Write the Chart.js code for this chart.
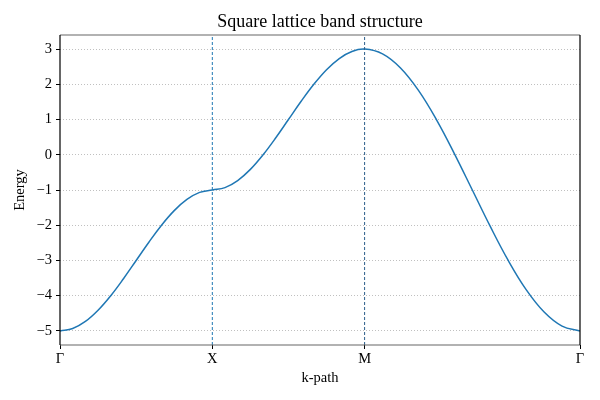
<!DOCTYPE html>
<html>
<head>
<meta charset="utf-8">
<script src="https://cdn.jsdelivr.net/npm/chart.js@4/dist/chart.umd.min.js"></script>
<style>
  html, body { margin: 0; padding: 0; background: #fff; }
  #wrap { width: 600px; height: 400px; }
</style>
</head>
<body>
<div id="wrap"><canvas id="chart"></canvas></div>
<script>
// path distance along Γ -> X -> M -> Γ
const kPath = [
  0, 0.262, 0.524, 0.785, 1.047, 1.309, 1.571, 1.833, 2.094, 2.356, 2.618, 2.880, 3.142,
  3.403, 3.665, 3.927, 4.189, 4.451, 4.712, 4.974, 5.236, 5.498, 5.760, 6.021, 6.283,
  6.653, 7.024, 7.394, 7.764, 8.134, 8.505, 8.875, 9.245, 9.615, 9.986, 10.356, 10.726
];
const energy = [
  -5, -4.932, -4.732, -4.414, -4.0, -3.518, -3.0, -2.482, -2.0, -1.586, -1.268, -1.068, -1.0,
  -0.932, -0.732, -0.414, 0, 0.482, 1.0, 1.518, 2.0, 2.414, 2.732, 2.932, 3.0,
  2.864, 2.464, 1.828, 1.0, 0.035, -1.0, -2.035, -3.0, -3.828, -4.464, -4.864, -5
];
const kTicks = [0, 3.142, 6.283, 10.726];
const kLabels = ["Γ", "X", "M", "Γ"];
const yTicks = [-5, -4, -3, -2, -1, 0, 1, 2, 3];
const yMin = -5.4, yMax = 3.4;

const serif = "'Liberation Serif', 'DejaVu Serif', serif";

const frame = {
  id: "frame",
  afterDraw(chart) {
    const { ctx, chartArea: a } = chart;
    ctx.save();
    ctx.lineWidth = 1.2;
    ctx.strokeStyle = "#666";
    ctx.beginPath();
    ctx.moveTo(a.left, a.top); ctx.lineTo(a.right, a.top);
    ctx.moveTo(a.left, a.bottom); ctx.lineTo(a.right, a.bottom);
    ctx.stroke();
    ctx.strokeStyle = "#000";
    ctx.beginPath();
    ctx.moveTo(a.left, a.top); ctx.lineTo(a.left, a.bottom);
    ctx.moveTo(a.right, a.top); ctx.lineTo(a.right, a.bottom);
    ctx.stroke();
    ctx.restore();
  }
};

function vline(x, color) {
  return {
    data: [{ x: x, y: yMin }, { x: x, y: yMax }],
    borderColor: color,
    borderWidth: 1,
    borderDash: [3, 2],
    pointRadius: 0,
    tension: 0,
    fill: false,
  };
}

new Chart(document.getElementById("chart"), {
  type: "line",
  data: {
    datasets: [
      vline(kTicks[1], "#1f77b4"),
      vline(kTicks[2], "#2b5d8a"),
      {
        data: kPath.map((k, i) => ({ x: k, y: energy[i] })),
        borderColor: "#1f77b4",
        borderWidth: 1.5,
        pointRadius: 0,
        tension: 0.4,
        fill: false,
      },
    ],
  },
  plugins: [frame],
  options: {
    responsive: true,
    maintainAspectRatio: false,
    animation: false,
    layout: { padding: { left: 0, right: 20, top: 0, bottom: 0 } },
    plugins: {
      legend: { display: false },
      tooltip: { enabled: false },
      title: {
        display: true,
        fullSize: false,
        text: "Square lattice band structure",
        color: "#000",
        font: { family: serif, size: 18, weight: "normal" },
        padding: { top: 11, bottom: 2.4 },
      },
    },
    scales: {
      x: {
        type: "linear",
        min: kTicks[0],
        max: kTicks[kTicks.length - 1],
        afterBuildTicks: (s) => { s.ticks = kTicks.map((v) => ({ value: v })); },
        afterFit: (s) => { s.height = 55; },
        ticks: {
          autoSkip: false,
          maxRotation: 0,
          padding: 1,
          color: "#000",
          font: { family: serif, size: 14.5 },
          callback: (v) => kLabels[kTicks.indexOf(v)],
        },
        grid: { drawOnChartArea: false, tickLength: 4, color: "#000", tickColor: "#000" },
        border: { display: false },
        title: {
          display: true,
          text: "k-path",
          color: "#000",
          font: { family: serif, size: 14.5 },
          padding: { top: 13, bottom: 13 },
        },
      },
      y: {
        min: yMin,
        max: yMax,
        afterBuildTicks: (s) => { s.ticks = yTicks.map((v) => ({ value: v })); },
        afterFit: (s) => { s.width = 60; },
        ticks: {
          padding: 4,
          color: "#000",
          font: { family: serif, size: 14.5 },
          callback: (v) => String(v).replace("-", "\u2212"),
        },
        grid: {
          color: "#b0b0b0",
          lineWidth: 0.8,
          tickLength: 4,
          tickColor: "#000",
          tickBorderDash: [],
          tickWidth: 1,
        },
        border: { display: false, dash: [1, 2] },
        title: {
          display: true,
          text: "Energy",
          color: "#000",
          font: { family: serif, size: 14.5 },
          padding: { top: 11, bottom: 11 },
        },
      },
    },
  },
});
</script>
</body>
</html>
